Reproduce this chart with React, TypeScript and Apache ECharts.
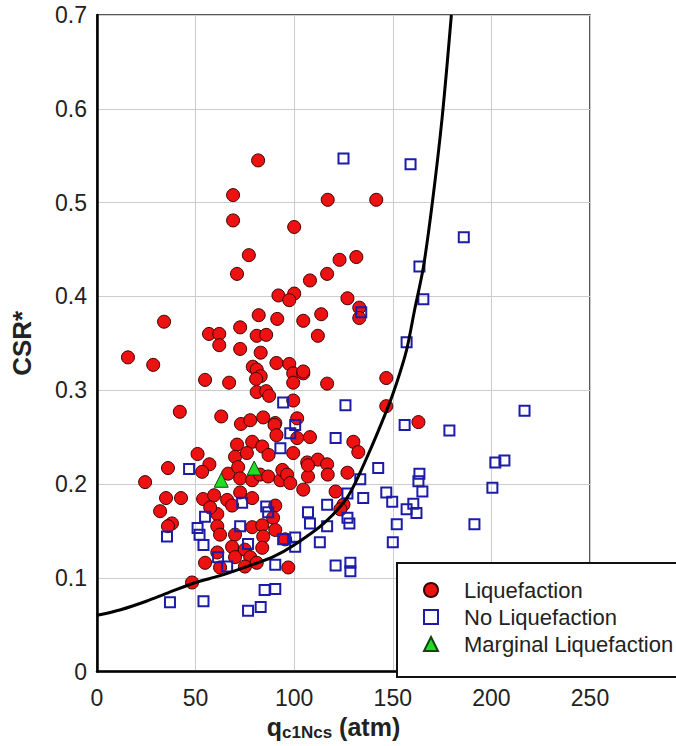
import React, { useEffect, useRef } from "react";
import * as echarts from "echarts";

const xTicks = [0, 50, 100, 150, 200, 250];
const yTicks = [0, 0.1, 0.2, 0.3, 0.4, 0.5, 0.6, 0.7];

const liquefaction: number[][] = [
  [81.7, 0.545], [69, 0.508], [69, 0.481], [77, 0.444], [71, 0.424], [100, 0.474],
  [92, 0.401], [100, 0.403], [97.5, 0.396], [117, 0.503], [141.6, 0.503], [123, 0.439],
  [131.5, 0.442], [108, 0.417], [116.7, 0.424], [127, 0.398], [133, 0.388], [113.7, 0.381],
  [82, 0.38], [91.4, 0.376], [104.6, 0.374], [72.6, 0.367], [56.8, 0.36], [62, 0.36],
  [62, 0.348], [81, 0.358], [85.8, 0.359], [112, 0.358], [72.6, 0.344], [83, 0.34],
  [79, 0.325], [81, 0.322], [83, 0.315], [80.7, 0.312], [91, 0.329], [97.5, 0.328],
  [99.5, 0.318], [104.6, 0.318], [99.5, 0.308], [54.8, 0.311], [67, 0.308], [116.7, 0.307],
  [81, 0.298], [85.8, 0.299], [87.3, 0.294], [99.5, 0.289], [42, 0.277], [63, 0.272],
  [73, 0.264], [77.7, 0.268], [84.3, 0.271], [90.4, 0.265], [101.5, 0.27], [34, 0.373],
  [15.7, 0.335], [28.5, 0.327], [51, 0.232], [57, 0.221], [36, 0.217], [53.3, 0.213],
  [24.4, 0.202], [66.5, 0.211], [35, 0.185], [42.6, 0.185], [53.8, 0.184], [59.4, 0.188],
  [32, 0.171], [38, 0.158], [36, 0.155], [61, 0.168], [61, 0.155], [62.4, 0.146],
  [54.8, 0.116], [48.2, 0.095], [71, 0.242], [78.7, 0.245], [83.8, 0.24], [90, 0.263],
  [91, 0.252], [101.5, 0.249], [108, 0.25], [99.5, 0.233], [70, 0.229], [76, 0.233],
  [87, 0.231], [71.6, 0.218], [72.6, 0.206], [78.7, 0.204], [82.7, 0.21], [86.8, 0.208],
  [93, 0.204], [94, 0.215], [96.4, 0.21], [98, 0.201], [104.6, 0.194], [106.6, 0.223],
  [107, 0.208], [112, 0.226], [116.7, 0.221], [117, 0.21], [127, 0.212], [121, 0.192],
  [125, 0.178], [66, 0.183], [72.6, 0.191], [78.7, 0.185], [68.5, 0.177], [90.4, 0.177],
  [57.4, 0.175], [89.3, 0.164], [78.7, 0.154], [83.8, 0.156], [90.4, 0.151], [70, 0.146],
  [84.3, 0.144], [68.5, 0.133], [75, 0.13], [83.8, 0.132], [95.4, 0.141], [61, 0.127],
  [70, 0.122], [77.7, 0.122], [62.4, 0.111], [75, 0.112], [81, 0.116], [97, 0.111],
  [104.6, 0.32], [146.7, 0.313], [146.7, 0.283], [163, 0.266], [130, 0.245], [132.5, 0.234],
  [107, 0.22], [123.4, 0.173], [133, 0.377],
];

const noLiquefaction: number[][] = [
  [125, 0.547], [159, 0.541], [186, 0.463], [163.5, 0.432], [165.5, 0.397], [134, 0.383],
  [157, 0.351], [126, 0.284], [94.4, 0.287], [100.5, 0.263], [98, 0.254], [93, 0.238],
  [121, 0.249], [156, 0.263], [178.7, 0.257], [216.8, 0.278], [142.6, 0.217], [133.5, 0.205],
  [163.5, 0.211], [163, 0.203], [165, 0.192], [146.7, 0.191], [202, 0.223], [206.6, 0.225],
  [200.5, 0.196], [127, 0.19], [135, 0.185], [149.7, 0.181], [157, 0.173], [160.4, 0.179],
  [162, 0.169], [152, 0.157], [150, 0.138], [191.4, 0.157], [128, 0.158], [127, 0.164],
  [116.7, 0.178], [107, 0.17], [108, 0.158], [116.7, 0.155], [113, 0.138], [100.5, 0.143],
  [100.5, 0.133], [94.4, 0.141], [121, 0.113], [128.5, 0.116], [128.5, 0.107], [90.4, 0.114],
  [85, 0.087], [90.4, 0.088], [76.6, 0.065], [83, 0.069], [54, 0.075], [37, 0.074],
  [35.5, 0.144], [46.7, 0.216], [54.8, 0.165], [51, 0.153], [52, 0.146], [54, 0.135],
  [61.4, 0.122], [66, 0.112], [73.6, 0.18], [85.8, 0.176], [86.8, 0.17], [72.6, 0.155],
  [76.6, 0.136],
];

const marginal: number[][] = [
  [63, 0.204], [79.7, 0.217],
];

const boundaryCurve: number[][] = [
  [0, 0.06], [12, 0.066], [25, 0.075], [36, 0.084], [50, 0.095], [62, 0.102], [76, 0.112],
  [89, 0.122], [100, 0.135], [115, 0.158], [127, 0.186], [137, 0.229], [147, 0.279],
  [152, 0.308], [157, 0.343], [161, 0.385], [165.5, 0.431], [170, 0.499], [175, 0.59],
  [179.7, 0.7],
];

const FONT = '"Liberation Sans", Arial, sans-serif';

export default function App() {
  const ref = useRef<HTMLDivElement>(null);
  useEffect(() => {
    if (!ref.current) return;
    const chart = echarts.init(ref.current, null, { renderer: "svg" });
    chart.setOption({
      animation: false,
      textStyle: { fontFamily: FONT },
      grid: {
        left: 97, right: 86, top: 15, bottom: 74,
        show: true, borderColor: "#222", borderWidth: 1.5, backgroundColor: "#fff",
      },
      xAxis: {
        type: "value",
        min: xTicks[0], max: xTicks[xTicks.length - 1], interval: 50,
        axisLine: { show: true, onZero: false, lineStyle: { color: "#000", width: 2.5 } },
        axisTick: { show: false },
        splitLine: { show: true, lineStyle: { color: "#cccccc", width: 1 } },
        axisLabel: { fontSize: 23, color: "#222", margin: 15, fontFamily: FONT },
        name: "{q|q}{s|c1Ncs}{t| (atm)}",
        nameLocation: "middle",
        nameGap: 40,
        nameTextStyle: {
          fontFamily: FONT,
          padding: [0, 20, 0, 0],
          rich: {
            q: { fontSize: 25, fontWeight: "bold", color: "#222", fontFamily: FONT },
            s: { fontSize: 17, fontWeight: "bold", color: "#222", fontFamily: FONT, padding: [11, 0, 0, 0] },
            t: { fontSize: 25, fontWeight: "bold", color: "#222", fontFamily: FONT },
          },
        },
      },
      yAxis: {
        type: "value",
        min: yTicks[0], max: yTicks[yTicks.length - 1], interval: 0.1,
        axisLine: { show: true, onZero: false, lineStyle: { color: "#000", width: 2.5 } },
        axisTick: { show: false },
        splitLine: { show: true, lineStyle: { color: "#cccccc", width: 1 } },
        axisLabel: { fontSize: 23, color: "#222", margin: 10, fontFamily: FONT },
        name: "CSR*",
        nameLocation: "middle",
        nameGap: 62,
        nameTextStyle: { fontSize: 26, fontWeight: "bold", color: "#222", fontFamily: FONT },
      },
      legend: {
        orient: "vertical",
        left: 397,
        top: 563,
        data: ["Liquefaction", "No Liquefaction", "Marginal Liquefaction"],
        backgroundColor: "#fff",
        borderColor: "#111",
        borderWidth: 2,
        borderRadius: 0,
        padding: [16, 20, 22, 26],
        itemGap: 5,
        itemWidth: 14,
        itemHeight: 14,
        z: 10,
        textStyle: { fontSize: 22, color: "#222", fontFamily: FONT, padding: [0, 0, 0, 21] },
      },
      series: [
        {
          name: "Liquefaction",
          type: "scatter",
          symbol: "circle",
          symbolSize: 13,
          data: liquefaction,
          itemStyle: { color: "#ee1111", borderColor: "#3a0000", borderWidth: 1, opacity: 1 },
          z: 2,
        },
        {
          name: "No Liquefaction",
          type: "scatter",
          symbol: "rect",
          symbolSize: 10,
          data: noLiquefaction,
          itemStyle: { color: "rgba(255,255,255,0)", borderColor: "#1c1ca8", borderWidth: 2, opacity: 1 },
          z: 3,
        },
        {
          name: "Marginal Liquefaction",
          type: "scatter",
          symbol: "triangle",
          symbolSize: 14,
          data: marginal,
          itemStyle: { color: "#22dd22", borderColor: "#114411", borderWidth: 1, opacity: 1 },
          z: 4,
        },
        {
          name: "Boundary",
          type: "line",
          data: boundaryCurve,
          smooth: 0.3,
          showSymbol: false,
          symbol: "none",
          lineStyle: { color: "#000", width: 3 },
          z: 5,
          silent: true,
        },
      ],
    });
    return () => chart.dispose();
  }, []);
  return (
    <div
      ref={ref}
      style={{ position: "absolute", left: 0, top: 0, width: 676, height: 746, background: "#fff" }}
    />
  );
}
